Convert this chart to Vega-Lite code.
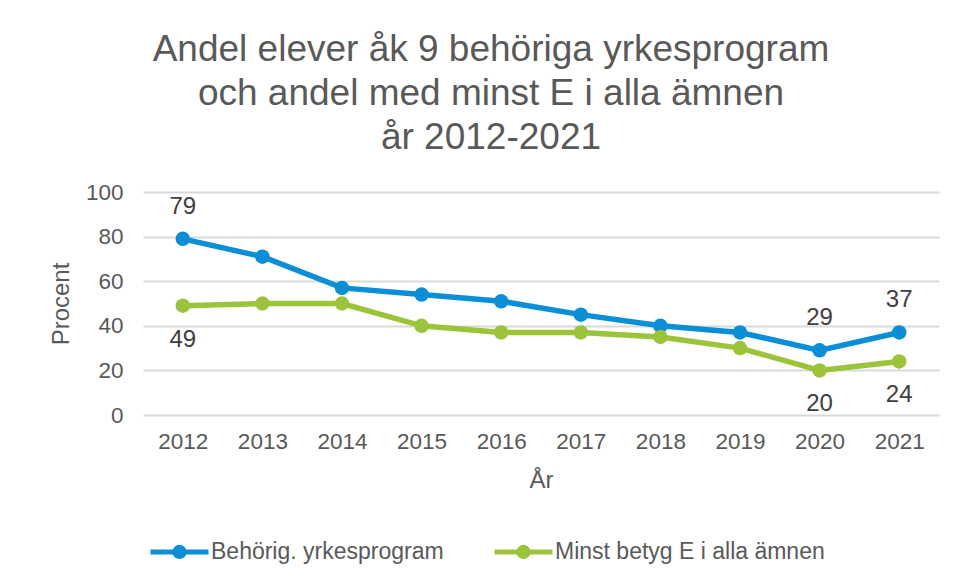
{
  "$schema": "https://vega.github.io/schema/vega-lite/v6.json",
  "width": 796,
  "height": 223,
  "autosize": {"type": "none"},
  "padding": {"left": 143, "top": 192, "right": 20, "bottom": 163},
  "background": "white",
  "title": {
    "text": ["Andel elever åk 9 behöriga yrkesprogram", "och andel med minst E i alla ämnen", "år 2012-2021"],
    "font": "Liberation Sans",
    "fontSize": 37,
    "fontWeight": "normal",
    "color": "#595959",
    "lineHeight": 44,
    "anchor": "middle",
    "frame": "group",
    "dx": -50,
    "offset": 24
  },
  "data": {
    "values": [
      {"year": "2012", "series": "Behörig. yrkesprogram", "value": 79, "label": "79"},
      {"year": "2013", "series": "Behörig. yrkesprogram", "value": 71, "label": null},
      {"year": "2014", "series": "Behörig. yrkesprogram", "value": 57, "label": null},
      {"year": "2015", "series": "Behörig. yrkesprogram", "value": 54, "label": null},
      {"year": "2016", "series": "Behörig. yrkesprogram", "value": 51, "label": null},
      {"year": "2017", "series": "Behörig. yrkesprogram", "value": 45, "label": null},
      {"year": "2018", "series": "Behörig. yrkesprogram", "value": 40, "label": null},
      {"year": "2019", "series": "Behörig. yrkesprogram", "value": 37, "label": null},
      {"year": "2020", "series": "Behörig. yrkesprogram", "value": 29, "label": "29"},
      {"year": "2021", "series": "Behörig. yrkesprogram", "value": 37, "label": "37"},
      {"year": "2012", "series": "Minst betyg E i alla ämnen", "value": 49, "label": "49"},
      {"year": "2013", "series": "Minst betyg E i alla ämnen", "value": 50, "label": null},
      {"year": "2014", "series": "Minst betyg E i alla ämnen", "value": 50, "label": null},
      {"year": "2015", "series": "Minst betyg E i alla ämnen", "value": 40, "label": null},
      {"year": "2016", "series": "Minst betyg E i alla ämnen", "value": 37, "label": null},
      {"year": "2017", "series": "Minst betyg E i alla ämnen", "value": 37, "label": null},
      {"year": "2018", "series": "Minst betyg E i alla ämnen", "value": 35, "label": null},
      {"year": "2019", "series": "Minst betyg E i alla ämnen", "value": 30, "label": null},
      {"year": "2020", "series": "Minst betyg E i alla ämnen", "value": 20, "label": "20"},
      {"year": "2021", "series": "Minst betyg E i alla ämnen", "value": 24, "label": "24"}
    ]
  },
  "encoding": {
    "x": {
      "field": "year", "type": "ordinal",
      "scale": {"type": "point", "padding": 0.5},
      "axis": {
        "title": "År", "labelAngle": 0, "domain": false, "ticks": false,
        "labelPadding": 15, "labelFontSize": 22.5, "labelColor": "#595959", "labelFont": "Liberation Sans",
        "titleFontSize": 24, "titleFontWeight": "normal", "titleColor": "#595959", "titleFont": "Liberation Sans", "titlePadding": 16
      }
    },
    "y": {
      "field": "value", "type": "quantitative",
      "scale": {"domain": [0, 100]},
      "axis": {
        "title": "Procent", "values": [0, 20, 40, 60, 80, 100], "domain": false, "ticks": false,
        "labelPadding": 20, "labelFontSize": 22.5, "labelColor": "#595959", "labelFont": "Liberation Sans",
        "titleFontSize": 24, "titleFontWeight": "normal", "titleColor": "#595959", "titleFont": "Liberation Sans", "titlePadding": 12,
        "gridColor": "#d9d9d9", "gridWidth": 2
      }
    },
    "color": {
      "field": "series", "type": "nominal",
      "scale": {"domain": ["Behörig. yrkesprogram", "Minst betyg E i alla ämnen"], "range": ["#0a8fd6", "#9cc43b"]},
      "legend": {
        "title": null,
        "orient": "none",
        "direction": "horizontal",
        "legendX": 5,
        "legendY": 328,
        "symbolType": "M-1,0H1M0.16,0A0.16,0.16,0,1,1,-0.16,0A0.16,0.16,0,1,1,0.16,0Z",
        "symbolSize": 3364,
        "symbolStrokeWidth": 5,
        "labelFontSize": 23,
        "labelLimit": 500,
        "labelColor": "#595959",
        "labelFont": "Liberation Sans",
        "labelOffset": 0,
        "columnPadding": 40,
        "encode": {
          "symbols": {"update": {"fill": {"scale": "color", "field": "value"}, "stroke": {"scale": "color", "field": "value"}, "opacity": {"value": 1}}}
        }
      }
    }
  },
  "layer": [
    {"mark": {"type": "line", "strokeWidth": 5.5}},
    {"mark": {"type": "point", "filled": true, "size": 210, "opacity": 1}},
    {
      "transform": [{"filter": "datum.label != null && datum.series == 'Behörig. yrkesprogram'"}],
      "mark": {"type": "text", "dy": -32, "fontSize": 24, "font": "Liberation Sans", "color": "#404040"},
      "encoding": {"text": {"field": "label"}, "color": {"value": "#404040"}}
    },
    {
      "transform": [{"filter": "datum.label != null && datum.series == 'Minst betyg E i alla ämnen'"}],
      "mark": {"type": "text", "dy": 34, "fontSize": 24, "font": "Liberation Sans", "color": "#404040"},
      "encoding": {"text": {"field": "label"}, "color": {"value": "#404040"}}
    }
  ],
  "config": {
    "view": {"stroke": null}
  }
}
